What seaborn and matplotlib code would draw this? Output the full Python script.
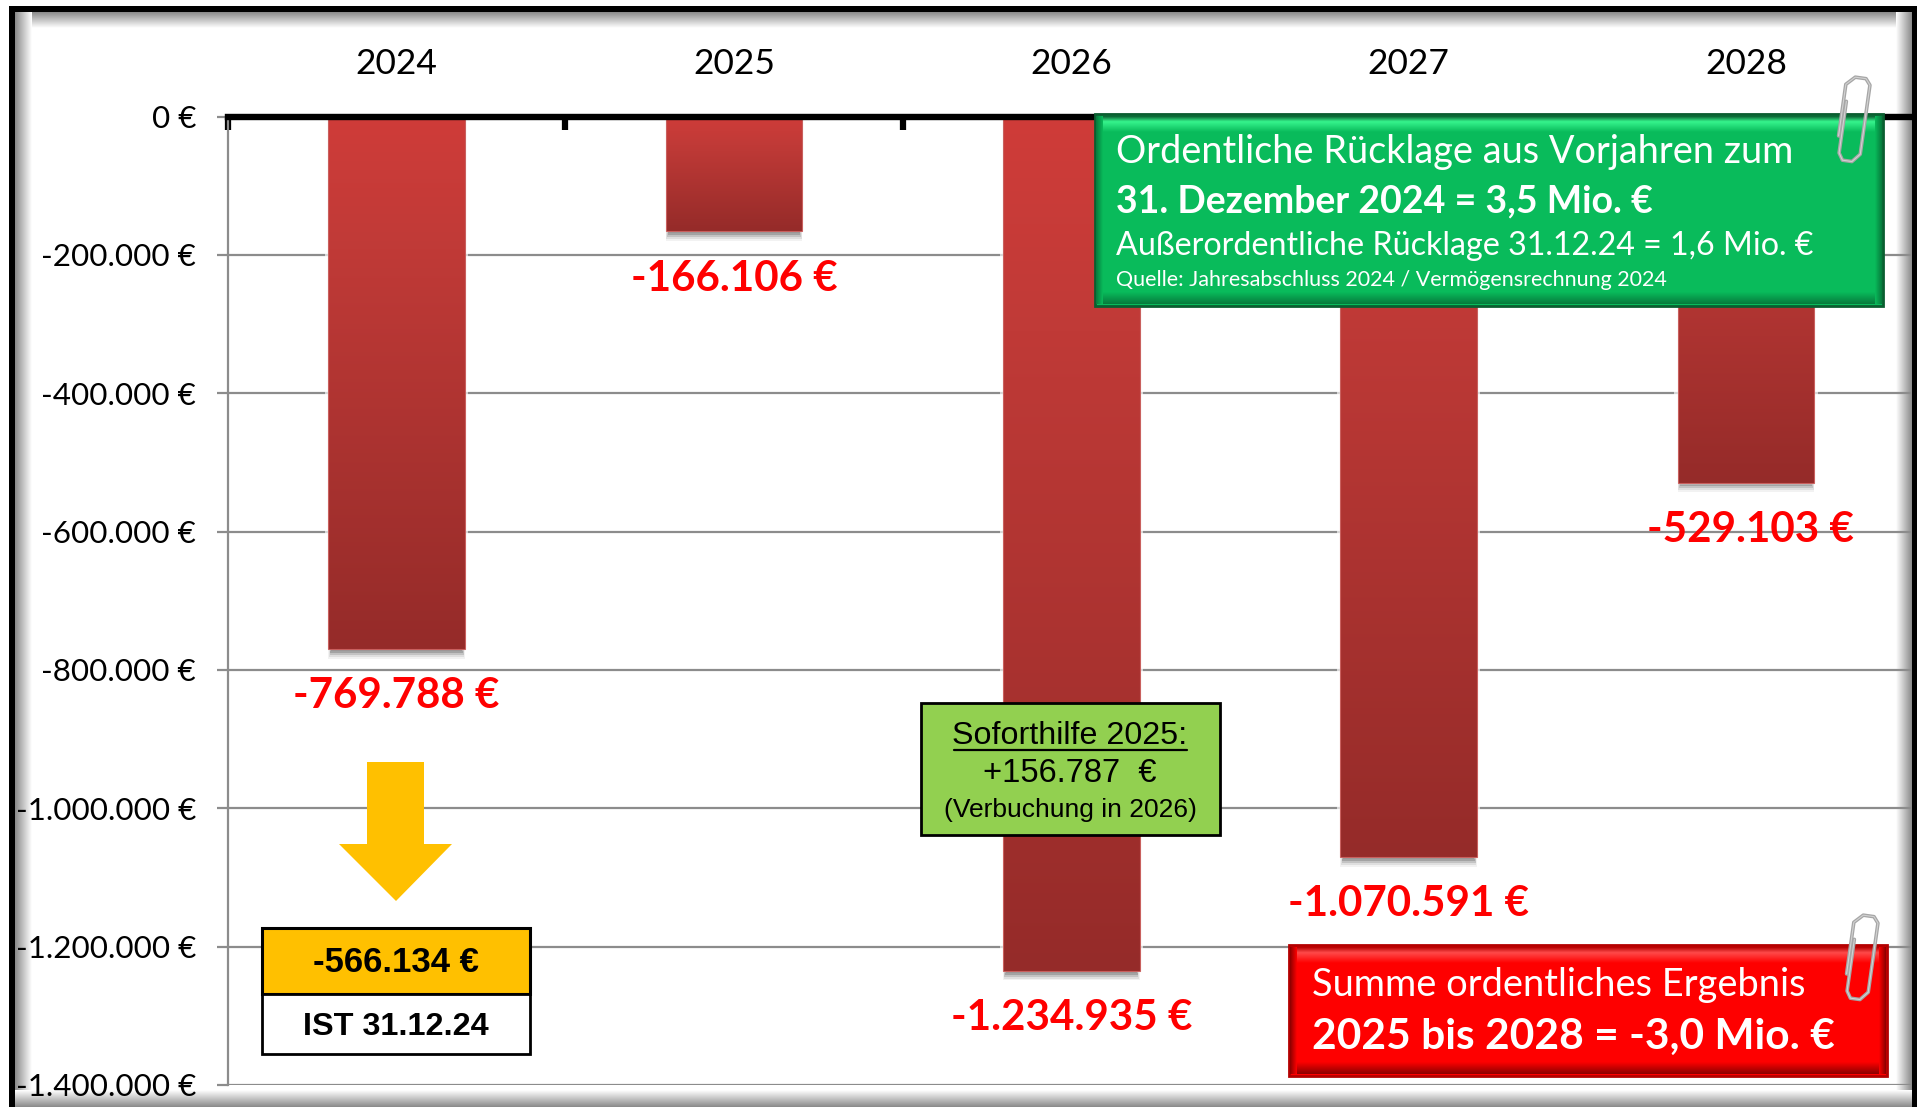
import numpy as np
import pandas as pd
import seaborn as sns
import matplotlib.pyplot as plt
from matplotlib.patches import Rectangle, Polygon
from matplotlib.colors import LinearSegmentedColormap
from matplotlib.path import Path
from matplotlib.patches import PathPatch

jahre = ['2024', '2025', '2026', '2027', '2028']
ergebnis = [-769788, -166106, -1234935, -1070591, -529103]
y_ticks = [0, -200000, -400000, -600000, -800000, -1000000, -1200000, -1400000]

W, H = 1917, 1107
CAL = ['Lato', 'DejaVu Sans']
ARIAL = ['Liberation Sans', 'DejaVu Sans']


def euro(v):
    return f"{v:,} €".replace(",", ".")


def verlauf(ax, extent, farben, stops=None, zorder=3, clip=None):
    # vertikaler Farbverlauf als Bild
    if stops is None:
        cmap = LinearSegmentedColormap.from_list('v', farben)
    else:
        cmap = LinearSegmentedColormap.from_list('v', list(zip(stops, farben)))
    g = np.linspace(0, 1, 256).reshape(-1, 1)
    im = ax.imshow(g, extent=extent, cmap=cmap, aspect='auto', zorder=zorder, origin='upper', interpolation='bilinear')
    if clip is not None:
        im.set_clip_path(clip)
    return im


def kasten(ov, x0, y0, x1, y1, farbe, hell, dunkel, kante):
    # Fläche mit Facette wie in Excel
    ov.add_patch(Rectangle((x0, y0), x1 - x0, y1 - y0, fc=farbe, ec=kante, lw=2, zorder=10))
    verlauf(ov, (x0 + 3, x1 - 3, y0 + 18, y0 + 2), [kante, hell, farbe], [0, 0.35, 1], zorder=11)
    verlauf(ov, (x0 + 3, x1 - 3, y1 - 2, y1 - 14), [farbe, dunkel], zorder=11)
    verlauf_seite = np.linspace(0, 1, 64).reshape(1, -1)
    cmap = LinearSegmentedColormap.from_list('s', [dunkel, farbe])
    ov.imshow(verlauf_seite, extent=(x0 + 1, x0 + 8, y1 - 2, y0 + 2), cmap=cmap, aspect='auto', zorder=11)
    ov.imshow(verlauf_seite[:, ::-1], extent=(x1 - 8, x1 - 1, y1 - 2, y0 + 2), cmap=cmap, aspect='auto', zorder=11)


def klammer(ov, x, y, h, w, winkel):
    # Büroklammer
    verts = [(0, h * 0.72), (0, h * 0.1), (w * 0.35, 0), (w * 0.8, 0), (w, h * 0.07), (w, h * 0.9),
             (w * 0.7, h), (w * 0.3, h), (w * 0.12, h * 0.92), (w * 0.12, h * 0.3)]
    t = np.deg2rad(winkel)
    pts = [(x + a * np.cos(t) - b * np.sin(t), y + a * np.sin(t) + b * np.cos(t)) for a, b in verts]
    ov.add_patch(PathPatch(Path(pts), fill=False, ec='#a6a6a6', lw=2.6, zorder=13, capstyle='round', joinstyle='round'))
    ov.add_patch(PathPatch(Path(pts), fill=False, ec='#d2d2d2', lw=0.8, zorder=14, capstyle='round', joinstyle='round'))


sns.set_theme(style='white')
plt.rcParams['font.family'] = CAL
plt.rcParams['text.color'] = 'black'

fig = plt.figure(figsize=(W / 100, H / 100), dpi=100, facecolor='white')

# Hintergrund mit Schatten am Rand
bg = fig.add_axes([0, 0, 1, 1], zorder=0)
grau = LinearSegmentedColormap.from_list('g', ['#8a8a8a', '#ffffff'])
bg.imshow(np.linspace(0, 1, 64).reshape(-1, 1), extent=(15, W, 28, 12), cmap=grau, aspect='auto', zorder=1, origin='upper')
bg.imshow(np.linspace(0, 1, 64).reshape(1, -1), extent=(15, 32, H, 12), cmap=grau, aspect='auto', zorder=1)
bg.imshow(np.linspace(1, 0, 64).reshape(1, -1), extent=(1896, 1912, H, 12), cmap=grau, aspect='auto', zorder=1)
bg.imshow(np.linspace(1, 0, 64).reshape(-1, 1), extent=(15, 1912, H, 1090), cmap=grau, aspect='auto', zorder=1, origin='upper')
bg.set_xlim(0, W)
bg.set_ylim(H, 0)
bg.axis('off')

ax_l, ax_r, ax_t, ax_b = 228.0, 1914.6, 116.5, 1085.0
ax = fig.add_axes([ax_l / W, 1 - ax_b / H, (ax_r - ax_l) / W, (ax_b - ax_t) / H], zorder=1, facecolor='none')

df = pd.DataFrame({'Jahr': jahre, 'Ergebnis': ergebnis})
sns.barplot(data=df, x='Jahr', y='Ergebnis', color='#b03432', width=0.405, ax=ax, zorder=3)

ax.set_xlim(-0.5, 4.5)
ax.set_ylim(-1400000, 0)
ax.set_xlabel('')
ax.set_ylabel('')

# Verlauf und Schatten der Balken
for p in list(ax.patches):
    x, w, h = p.get_x(), p.get_width(), p.get_height()
    ax.add_patch(Rectangle((x - 0.01, 0), w + 0.02, h - 9000, fc='white', alpha=0.65, ec='none', zorder=2.5))
    for i, a in enumerate([0.05, 0.08, 0.12, 0.16, 0.2]):
        ax.add_patch(Rectangle((x + 0.002 * i, h), w - 0.004 * i, -14000 + 2800 * i, fc='black', alpha=a, ec='none', zorder=2.6))
    verlauf(ax, (x, x + w, h, 0), ['#cf3c39', '#c03a37', '#952b29'], [0, 0.25, 1], zorder=3.2, clip=p)
    ax.add_patch(Rectangle((x, 0), w, h, fill=False, ec='#c9605e', lw=0.8, zorder=3.3))
    ax.set_xlim(-0.5, 4.5)
    ax.set_ylim(-1400000, 0)

for i, v in enumerate(ergebnis):
    dx = 3 if i == 4 else 0
    ax.annotate(euro(v), (i, v), xytext=(dx, -34), textcoords='offset points', ha='center', va='center',
                color='#ff0000', fontsize=30.3, fontweight='bold', zorder=5, annotation_clip=False)

ax.set_yticks(y_ticks)
ax.set_yticklabels([euro(v) for v in y_ticks], fontsize=22.6, color='black')
ax.set_xticks(range(len(jahre)))
ax.set_xticklabels(jahre, fontsize=25.5, color='black')
ax.set_xticks(np.arange(-0.5, 2.5, 1.0), minor=True)
ax.xaxis.tick_top()
ax.tick_params(axis='x', which='major', length=0, pad=26)
ax.tick_params(axis='x', which='minor', direction='in', length=9, width=4.5, color='black', top=True)
ax.tick_params(axis='y', which='major', length=8, width=1.6, color='#8c8c8c', pad=15, left=True)
ax.grid(axis='y', color='#8c8c8c', lw=1.6, zorder=1)
ax.set_axisbelow(True)
for s in ['right', 'bottom']:
    ax.spines[s].set_visible(False)
ax.spines['left'].set_color('#8c8c8c')
ax.spines['left'].set_linewidth(1.6)
ax.spines['top'].set_color('black')
ax.spines['top'].set_linewidth(4.6)
ax.spines['top'].set_zorder(6)

# Überlagerung in Pixeln für Rahmen und Textfelder
ov = fig.add_axes([0, 0, 1, 1], facecolor='none', zorder=2)
ov.set_xlim(0, W)
ov.set_ylim(H, 0)
ov.axis('off')

# schwarzer Rahmen
ov.add_patch(Rectangle((9, 6), 6, H, fc='black', ec='none', zorder=2))
ov.add_patch(Rectangle((9, 6), W - 9, 6, fc='black', ec='none', zorder=2))
ov.add_patch(Rectangle((1912, 6), 5, H, fc='black', ec='none', zorder=2))

# grüner Kasten
kasten(ov, 1095, 114, 1883, 306, '#09bb5b', '#36f58d', '#067a3c', '#0a5e30')
ov.text(1116, 152, 'Ordentliche Rücklage aus Vorjahren zum', color='white', fontsize=27.3, va='center', zorder=15)
ov.text(1116, 201, '31. Dezember 2024 = 3,5 Mio. €', color='white', fontsize=27, fontweight='bold', va='center', zorder=15)
ov.text(1116, 246, 'Außerordentliche Rücklage 31.12.24 = 1,6 Mio. €', color='white', fontsize=23.2, va='center', zorder=15)
ov.text(1116, 280, 'Quelle: Jahresabschluss 2024 / Vermögensrechnung 2024', color='white', fontsize=15.5, va='center', zorder=15)
klammer(ov, 1847, 76, 84, 24, 8)

# roter Kasten
kasten(ov, 1289, 945, 1887, 1076, '#fe0000', '#ff4a4a', '#8a0000', '#b30000')
ov.text(1312, 985, 'Summe ordentliches Ergebnis', color='white', fontsize=27.4, va='center', zorder=15)
ov.text(1312, 1037, '2025 bis 2028 = -3,0 Mio. €', color='white', fontsize=30.6, fontweight='bold', va='center', zorder=15)
klammer(ov, 1855, 914, 84, 24, 8)

# hellgrüner Kasten
ov.add_patch(Rectangle((921, 703), 299, 132, fc='#92d050', ec='black', lw=2, zorder=10))
ov.text(1070, 736, 'Soforthilfe 2025:', color='black', fontsize=23.2, family=ARIAL, ha='center', va='center', zorder=15)
ov.plot([954, 1187], [750, 750], color='black', lw=1.6, zorder=15)
ov.text(1070, 774, '+156.787  €', color='black', fontsize=23.5, family=ARIAL, ha='center', va='center', zorder=15)
ov.text(1070, 810, '(Verbuchung in 2026)', color='black', fontsize=19, family=ARIAL, ha='center', va='center', zorder=15)

# gelber Pfeil und IST-Kasten
ov.add_patch(Polygon([(367, 762), (424, 762), (424, 844), (452, 844), (396, 901), (339, 844), (367, 844)],
                     fc='#ffc000', ec='none', zorder=10))
ov.add_patch(Rectangle((262, 928), 268, 66, fc='#ffc000', ec='black', lw=2.2, zorder=10))
ov.add_patch(Rectangle((262, 994), 268, 60, fc='white', ec='black', lw=2, zorder=10))
ov.text(396, 962, '-566.134 €', color='black', fontsize=25, fontweight='bold', family=ARIAL, ha='center', va='center', zorder=15)
ov.text(396, 1027, 'IST 31.12.24', color='black', fontsize=23.3, fontweight='bold', family=ARIAL, ha='center', va='center', zorder=15)

ov.set_xlim(0, W)
ov.set_ylim(H, 0)

fig.savefig('out.png', dpi=100)
